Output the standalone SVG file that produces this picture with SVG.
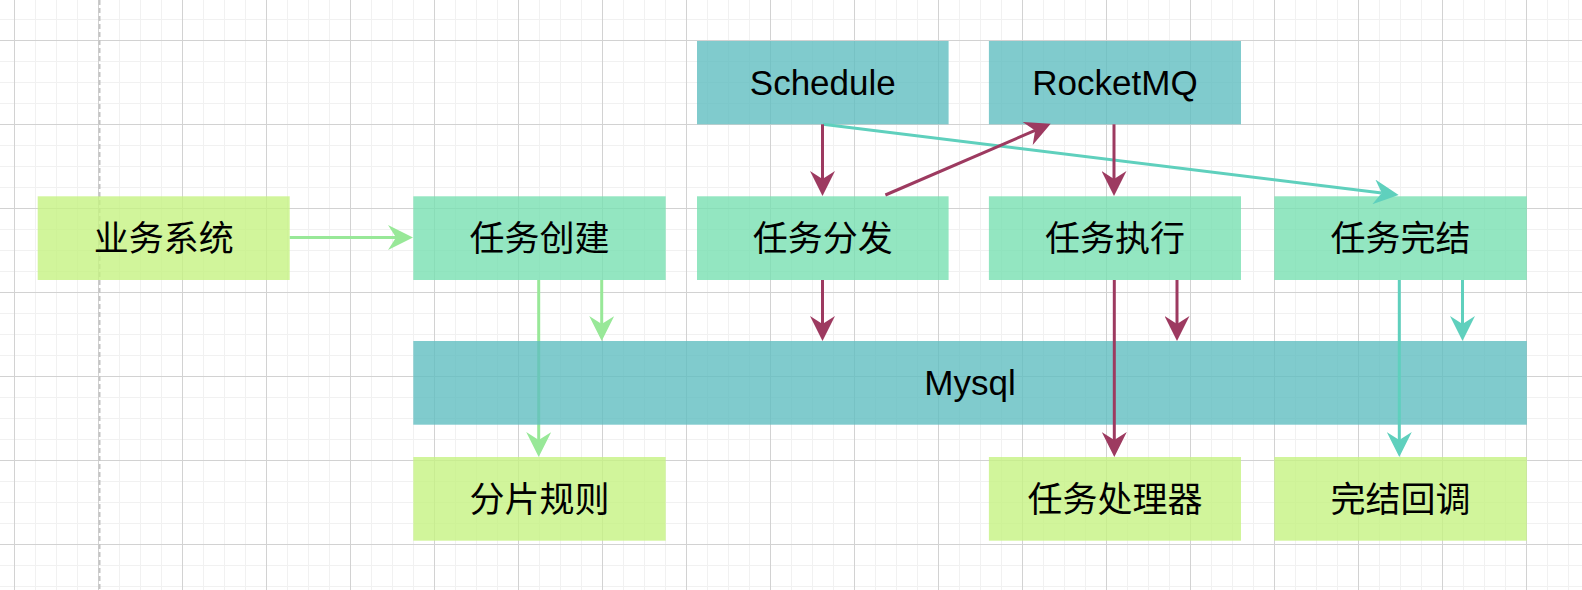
<svg xmlns="http://www.w3.org/2000/svg" width="1582" height="590" viewBox="0 0 1582 590">
<defs>
<style>
.lg{fill:#c5f282;fill-opacity:0.8}
.mint{fill:#78e0b2;fill-opacity:0.8}
.teal{fill:#60bec0;fill-opacity:0.8}
text{font-family:"Liberation Sans","Noto Sans CJK SC",sans-serif;font-size:35px;fill:#000;text-anchor:middle}
.e{fill:none;stroke-width:3}
.red{stroke:#9d3a60}
.grn{stroke:#98e898}
.tl{stroke:#5fd0bd}
</style>
<pattern id="minor" patternUnits="userSpaceOnUse" x="14" y="40" width="21" height="21">
<path d="M0.5 0V21M0 0.5H21" stroke="#f1f1f1" stroke-width="1" fill="none"/>
</pattern>
<pattern id="major" patternUnits="userSpaceOnUse" x="14" y="40" width="84" height="84">
<path d="M0.5 0V84M0 0.5H84" stroke="#d2d2d2" stroke-width="1" fill="none"/>
</pattern>
<marker id="aR" markerUnits="userSpaceOnUse" viewBox="0 0 25 25" markerWidth="25" markerHeight="25" refX="8" refY="12.5" orient="auto">
<path d="M0 0L25 12.5L0 25L8 12.5Z" fill="#9d3a60"/>
</marker>
<marker id="aG" markerUnits="userSpaceOnUse" viewBox="0 0 25 25" markerWidth="25" markerHeight="25" refX="8" refY="12.5" orient="auto">
<path d="M0 0L25 12.5L0 25L8 12.5Z" fill="#98e898"/>
</marker>
<marker id="aT" markerUnits="userSpaceOnUse" viewBox="0 0 25 25" markerWidth="25" markerHeight="25" refX="8" refY="12.5" orient="auto">
<path d="M0 0L25 12.5L0 25L8 12.5Z" fill="#5fd0bd"/>
</marker>
</defs>
<g id="background">
<rect width="1582" height="590" fill="#ffffff"/>
<rect width="1582" height="590" fill="url(#minor)"/>
<rect width="1582" height="590" fill="url(#major)"/>
<line x1="99.5" y1="0" x2="99.5" y2="590" stroke="#c4c4c4" stroke-width="2" stroke-dasharray="5 3"/>
</g>
<g id="node-yewu"><rect class="lg" x="37.7" y="196.3" width="252" height="83.7"/><text x="163.7" y="251">业务系统</text></g>
<g id="node-chuangjian"><rect class="mint" x="413.3" y="196.3" width="252.4" height="83.7"/><text x="539.5" y="251">任务创建</text></g>
<g id="node-fenfa"><rect class="mint" x="697" y="196.3" width="251.6" height="83.7"/><text x="822.8" y="251">任务分发</text></g>
<g id="node-zhixing"><rect class="mint" x="988.9" y="196.3" width="252.1" height="83.7"/><text x="1115" y="251">任务执行</text></g>
<g id="node-wanjie"><rect class="mint" x="1274.3" y="196.3" width="252.5" height="83.7"/><text x="1400.5" y="251">任务完结</text></g>
<g id="node-schedule"><rect class="teal" x="697" y="41" width="251.6" height="83.3"/><text x="822.8" y="95">Schedule</text></g>
<g id="node-rocketmq"><rect class="teal" x="988.9" y="41" width="252.1" height="83.3"/><text x="1115" y="95">RocketMQ</text></g>
<g id="connectors-under">
<path class="e grn" d="M538.7 280V440" marker-end="url(#aG)"/>
</g>
<g id="node-mysql"><rect class="teal" x="413.3" y="341" width="1113.5" height="83.7"/><text x="970" y="395">Mysql</text></g>
<g id="node-fenpian"><rect class="lg" x="413.3" y="457" width="252.4" height="83.7"/><text x="539.5" y="512">分片规则</text></g>
<g id="node-chuliqi"><rect class="lg" x="988.9" y="457" width="252.1" height="83.7"/><text x="1115" y="512">任务处理器</text></g>
<g id="node-huidiao"><rect class="lg" x="1274.3" y="457" width="252.5" height="83.7"/><text x="1400.5" y="512">完结回调</text></g>
<g id="connectors">
<path class="e grn" d="M289.7 237.5H396" marker-end="url(#aG)"/>
<path class="e grn" d="M601.7 280V324" marker-end="url(#aG)"/>
<path class="e tl" d="M822.9 124.3L1381.8 192.9" marker-end="url(#aT)"/>
<path class="e red" d="M822.5 124.3V179" marker-end="url(#aR)"/>
<path class="e red" d="M885.4 195L1035.1 130.4" marker-end="url(#aR)"/>
<path class="e red" d="M1114 124.3V179" marker-end="url(#aR)"/>
<path class="e red" d="M822.5 280V324" marker-end="url(#aR)"/>
<path class="e red" d="M1177 280V324" marker-end="url(#aR)"/>
<path class="e red" d="M1114.3 280V440" marker-end="url(#aR)"/>
<path class="e tl" d="M1462.5 280V324" marker-end="url(#aT)"/>
<path class="e tl" d="M1399.3 280V440" marker-end="url(#aT)"/>
</g>
</svg>
